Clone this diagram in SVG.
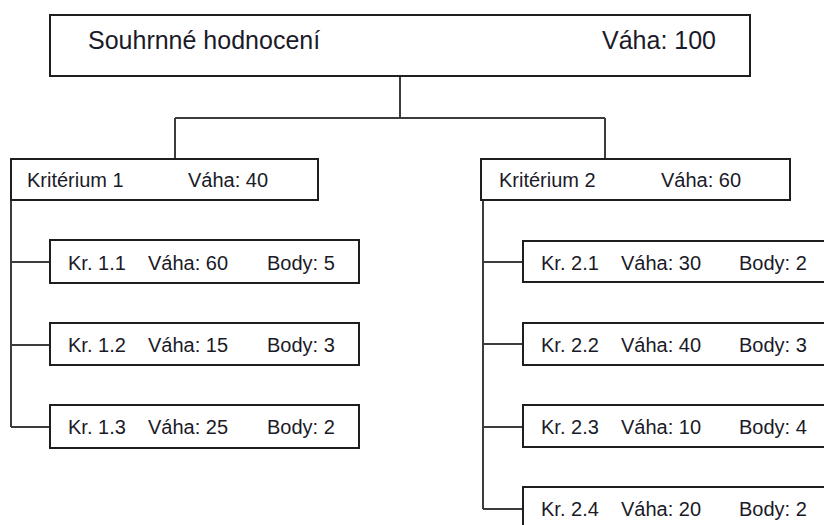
<svg xmlns="http://www.w3.org/2000/svg" width="824" height="525" viewBox="0 0 824 525">
  <style>
    .box { fill: #ffffff; stroke: #1e1e1e; stroke-width: 2; }
    .wire { fill: none; stroke: #3c3c3c; stroke-width: 2; }
    text { font-family: "Liberation Sans", Arial, sans-serif; fill: #1a1a28; }
    .big { font-size: 25px; }
    .mid { font-size: 20px; }
  </style>
  <rect x="0" y="0" width="824" height="525" fill="#ffffff"/>

  <!-- connectors -->
  <g id="connectors">
    <path class="wire" d="M400,76 V118 M175,118 H605 M175,118 V159 M605,118 V159"/>
    <path class="wire" d="M11,200 V427 M11,262 H50 M11,345 H50 M11,427 H50"/>
    <path class="wire" d="M483,200 V509 M483,262 H523 M483,344 H523 M483,427 H523 M483,509 H523"/>
  </g>

  <!-- root -->
  <g id="root">
    <rect class="box" x="50" y="15" width="700" height="61"/>
    <text class="big" x="88" y="49">Souhrnné hodnocení</text>
    <text class="big" x="602" y="49">Váha: 100</text>
  </g>

  <!-- criteria -->
  <g id="krit1">
    <rect class="box" x="11" y="159" width="307" height="41"/>
    <text class="mid" x="27" y="187">Kritérium 1</text>
    <text class="mid" x="188" y="187">Váha: 40</text>
  </g>
  <g id="krit2">
    <rect class="box" x="481" y="159" width="309" height="41"/>
    <text class="mid" x="499" y="187">Kritérium 2</text>
    <text class="mid" x="661" y="187">Váha: 60</text>
  </g>

  <!-- sub-criteria of 1 -->
  <g id="kr11">
    <rect class="box" x="50" y="240" width="309" height="43"/>
    <text class="mid" x="68" y="270">Kr. 1.1</text>
    <text class="mid" x="148" y="270">Váha: 60</text>
    <text class="mid" x="267" y="270">Body: 5</text>
  </g>
  <g id="kr12">
    <rect class="box" x="50" y="323" width="309" height="42"/>
    <text class="mid" x="68" y="352">Kr. 1.2</text>
    <text class="mid" x="148" y="352">Váha: 15</text>
    <text class="mid" x="267" y="352">Body: 3</text>
  </g>
  <g id="kr13">
    <rect class="box" x="50" y="405" width="309" height="43"/>
    <text class="mid" x="68" y="434">Kr. 1.3</text>
    <text class="mid" x="148" y="434">Váha: 25</text>
    <text class="mid" x="267" y="434">Body: 2</text>
  </g>

  <!-- sub-criteria of 2 -->
  <g id="kr21">
    <rect class="box" x="523" y="241" width="309" height="41"/>
    <text class="mid" x="541" y="270">Kr. 2.1</text>
    <text class="mid" x="621" y="270">Váha: 30</text>
    <text class="mid" x="739" y="270">Body: 2</text>
  </g>
  <g id="kr22">
    <rect class="box" x="523" y="323" width="309" height="42"/>
    <text class="mid" x="541" y="352">Kr. 2.2</text>
    <text class="mid" x="621" y="352">Váha: 40</text>
    <text class="mid" x="739" y="352">Body: 3</text>
  </g>
  <g id="kr23">
    <rect class="box" x="523" y="405" width="309" height="42"/>
    <text class="mid" x="541" y="434">Kr. 2.3</text>
    <text class="mid" x="621" y="434">Váha: 10</text>
    <text class="mid" x="739" y="434">Body: 4</text>
  </g>
  <g id="kr24">
    <rect class="box" x="523" y="487" width="309" height="43"/>
    <text class="mid" x="541" y="516">Kr. 2.4</text>
    <text class="mid" x="621" y="516">Váha: 20</text>
    <text class="mid" x="739" y="516">Body: 2</text>
  </g>
</svg>
